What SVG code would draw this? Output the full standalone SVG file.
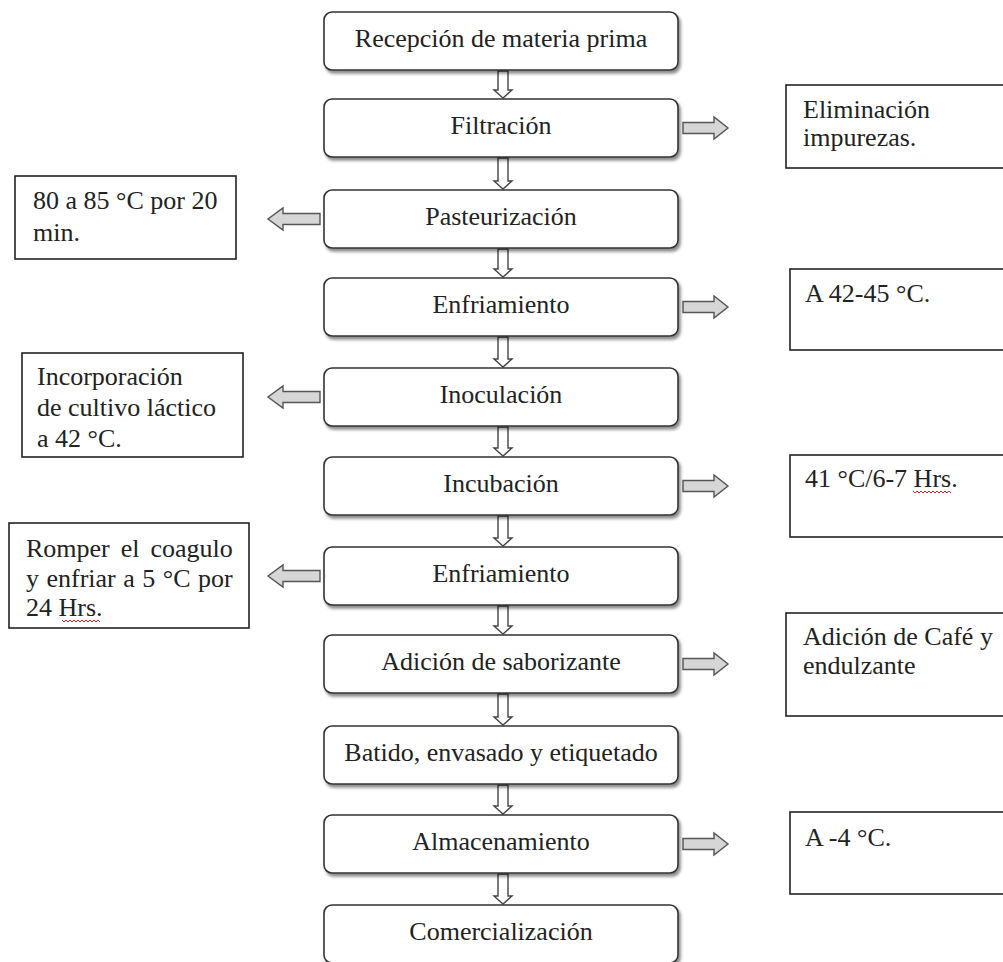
<svg xmlns="http://www.w3.org/2000/svg" width="1003" height="962" viewBox="0 0 1003 962">
<style>
text{font-family:"Liberation Serif","Times New Roman",serif;font-size:26px;fill:#222}
.main{fill:#fff;stroke:#333;stroke-width:1.6}
.side{fill:#fff;stroke:#222;stroke-width:1.6}
.mt{text-anchor:middle}
.down{fill:#fff;stroke:#444;stroke-width:1.4;stroke-linejoin:miter}
.sarr{fill:#d6d6d6;stroke:#555;stroke-width:1.4}
.sq{fill:none;stroke:#d22;stroke-width:1}
</style>
<defs>
<filter id="sh" x="-5%" y="-20%" width="115%" height="150%">
<feDropShadow dx="2" dy="3" stdDeviation="1.5" flood-color="#000" flood-opacity="0.45"/>
</filter>
</defs>
<rect width="1003" height="962" fill="#fff"/>

<g id="connectors">
<path class="down" d="M498,71 L508,71 L508,90 L512,90 L503,98 L494,90 L498,90 Z"/>
<path class="down" d="M498,158 L508,158 L508,181 L512,181 L503,189 L494,181 L498,181 Z"/>
<path class="down" d="M498,249 L508,249 L508,269 L512,269 L503,277 L494,269 L498,269 Z"/>
<path class="down" d="M498,337 L508,337 L508,359 L512,359 L503,367 L494,359 L498,359 Z"/>
<path class="down" d="M498,427 L508,427 L508,448 L512,448 L503,456 L494,448 L498,448 Z"/>
<path class="down" d="M498,516 L508,516 L508,538 L512,538 L503,546 L494,538 L498,538 Z"/>
<path class="down" d="M498,606 L508,606 L508,626 L512,626 L503,634 L494,626 L498,626 Z"/>
<path class="down" d="M498,694 L508,694 L508,717 L512,717 L503,725 L494,717 L498,717 Z"/>
<path class="down" d="M498,785 L508,785 L508,806 L512,806 L503,814 L494,806 L498,806 Z"/>
<path class="down" d="M498,874 L508,874 L508,896 L512,896 L503,904 L494,896 L498,896 Z"/>
<path class="sarr" d="M683,122.5 L714,122.5 L714,117 L728,128 L714,139 L714,133.5 L683,133.5 Z"/>
<path class="sarr" d="M683,301.5 L714,301.5 L714,296 L728,307 L714,318 L714,312.5 L683,312.5 Z"/>
<path class="sarr" d="M683,480.5 L714,480.5 L714,475 L728,486 L714,497 L714,491.5 L683,491.5 Z"/>
<path class="sarr" d="M683,658.5 L714,658.5 L714,653 L728,664 L714,675 L714,669.5 L683,669.5 Z"/>
<path class="sarr" d="M683,838.5 L714,838.5 L714,833 L728,844 L714,855 L714,849.5 L683,849.5 Z"/>
<path class="sarr" d="M320,213.5 L283,213.5 L283,208 L268,219 L283,230 L283,224.5 L320,224.5 Z"/>
<path class="sarr" d="M320,391.5 L283,391.5 L283,386 L268,397 L283,408 L283,402.5 L320,402.5 Z"/>
<path class="sarr" d="M320,570.5 L283,570.5 L283,565 L268,576 L283,587 L283,581.5 L320,581.5 Z"/>
</g>

<g id="n1"><rect class="main" filter="url(#sh)" x="324" y="12" width="354" height="58" rx="8"/><text class="mt" x="501" y="47">Recepción de materia prima</text></g>
<g id="n2"><rect class="main" filter="url(#sh)" x="324" y="99" width="354" height="58" rx="8"/><text class="mt" x="501" y="134">Filtración</text></g>
<g id="n3"><rect class="main" filter="url(#sh)" x="324" y="190" width="354" height="58" rx="8"/><text class="mt" x="501" y="225">Pasteurización</text></g>
<g id="n4"><rect class="main" filter="url(#sh)" x="324" y="278" width="354" height="58" rx="8"/><text class="mt" x="501" y="313">Enfriamiento</text></g>
<g id="n5"><rect class="main" filter="url(#sh)" x="324" y="368" width="354" height="58" rx="8"/><text class="mt" x="501" y="403">Inoculación</text></g>
<g id="n6"><rect class="main" filter="url(#sh)" x="324" y="457" width="354" height="58" rx="8"/><text class="mt" x="501" y="492">Incubación</text></g>
<g id="n7"><rect class="main" filter="url(#sh)" x="324" y="547" width="354" height="58" rx="8"/><text class="mt" x="501" y="582">Enfriamiento</text></g>
<g id="n8"><rect class="main" filter="url(#sh)" x="324" y="635" width="354" height="58" rx="8"/><text class="mt" x="501" y="670">Adición de saborizante</text></g>
<g id="n9"><rect class="main" filter="url(#sh)" x="324" y="726" width="354" height="58" rx="8"/><text class="mt" x="501" y="761">Batido, envasado y etiquetado</text></g>
<g id="n10"><rect class="main" filter="url(#sh)" x="324" y="815" width="354" height="58" rx="8"/><text class="mt" x="501" y="850">Almacenamiento</text></g>
<g id="n11"><rect class="main" filter="url(#sh)" x="324" y="905" width="354" height="58" rx="8"/><text class="mt" x="501" y="940">Comercialización</text></g>

<g id="s1"><rect class="side" x="786" y="85" width="230" height="83"/><text x="803" y="118">Eliminación</text><text x="803" y="146">impurezas.</text></g>
<g id="s2"><rect class="side" x="15" y="176" width="221" height="83"/><text x="33" y="209">80 a 85 °C por 20</text><text x="33" y="241">min.</text></g>
<g id="s3"><rect class="side" x="790" y="269" width="230" height="81"/><text x="805" y="302">A 42-45 °C.</text></g>
<g id="s4"><rect class="side" x="22" y="353" width="221" height="104"/><text x="37" y="385">Incorporación</text><text x="37" y="416">de cultivo láctico</text><text x="37" y="447">a 42 °C.</text></g>
<g id="s5"><rect class="side" x="790" y="455" width="230" height="82"/><text x="805" y="487">41 °C/6-7 Hrs.</text><path class="sq" d="M913,491 l2,2 l2,-2 l2,2 l2,-2 l2,2 l2,-2 l2,2 l2,-2 l2,2 l2,-2 l2,2 l2,-2 l2,2 l2,-2 l2,2 l2,-2 l2,2 l2,-2 l2,2"/></g>
<g id="s6"><rect class="side" x="9" y="523" width="240" height="105"/><text x="26" y="557" word-spacing="4.5">Romper el coagulo</text><text x="26" y="587" word-spacing="1">y enfriar a 5 °C por</text><text x="26" y="616">24 Hrs.</text><path class="sq" d="M62,620 l2,2 l2,-2 l2,2 l2,-2 l2,2 l2,-2 l2,2 l2,-2 l2,2 l2,-2 l2,2 l2,-2 l2,2 l2,-2 l2,2 l2,-2 l2,2 l2,-2 l2,2"/></g>
<g id="s7"><rect class="side" x="786" y="613" width="230" height="103"/><text x="803" y="645">Adición de Café y</text><text x="803" y="674">endulzante</text></g>
<g id="s8"><rect class="side" x="790" y="812" width="230" height="82"/><text x="805" y="846">A -4 °C.</text></g>
</svg>
